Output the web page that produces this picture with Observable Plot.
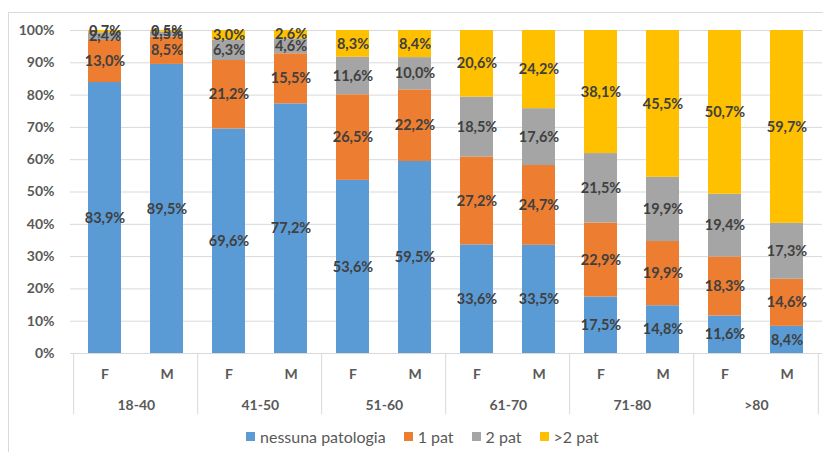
<!DOCTYPE html>
<html>
<head>
<meta charset="utf-8">
<script src="https://cdn.jsdelivr.net/npm/d3@7"></script>
<script src="https://cdn.jsdelivr.net/npm/@observablehq/plot@0.6"></script>
<style>
  html, body { margin: 0; padding: 0; background: #fff; }
  body { width: 823px; height: 452px; position: relative; overflow: hidden; font-family: Lato, "Open Sans", sans-serif; }
  #frame { position: absolute; left: 8px; top: 12px; width: 900px; height: 600px; border: 1px solid #d9d9d9; pointer-events: none; }
  #chart { position: absolute; left: 0; top: 0; }
  #legend { position: absolute; left: 246px; top: 427px; display: flex; align-items: center; font-size: 16px; color: #595959; white-space: nowrap; }
  #legend .item { display: flex; align-items: center; margin-right: 18px; }
  #legend .sw { width: 9px; height: 9px; margin-right: 5px; }
</style>
</head>
<body>
<div id="frame"></div>
<div id="chart"></div>
<div id="legend"></div>
<script>
// ---- data ----
const ages = ["18-40", "41-50", "51-60", "61-70", "71-80", ">80"];
const sexes = ["F", "M"];
const seriesNames = ["nessuna patologia", "1 pat", "2 pat", ">2 pat"];
const seriesColors = ["#5B9BD5", "#ED7D31", "#A5A5A5", "#FFC000"];
// order: 18-40 F, 18-40 M, 41-50 F, 41-50 M, ...
const nessuna = [83.9, 89.5, 69.6, 77.2, 53.6, 59.5, 33.6, 33.5, 17.5, 14.8, 11.6, 8.4];
const pat1    = [13.0, 8.5, 21.2, 15.5, 26.5, 22.2, 27.2, 24.7, 22.9, 19.9, 18.3, 14.6];
const pat2    = [2.4, 1.5, 6.3, 4.6, 11.6, 10.0, 18.5, 17.6, 21.5, 19.9, 19.4, 17.3];
const pat3    = [0.7, 0.5, 3.0, 2.6, 8.3, 8.4, 20.6, 24.2, 38.1, 45.5, 50.7, 59.7];
const yTicks = [0, 0.1, 0.2, 0.3, 0.4, 0.5, 0.6, 0.7, 0.8, 0.9, 1.0];

// ---- build table ----
const seriesValues = [nessuna, pat1, pat2, pat3];
const keys = [];
ages.forEach(a => sexes.forEach(s => keys.push(a + "|" + s)));
const rows = [];
keys.forEach((k, i) => {
  const [age, sex] = k.split("|");
  seriesNames.forEach((name, j) => rows.push({key: k, age, sex, series: name, value: seriesValues[j][i]}));
});
const cats = keys.map(k => { const [age, sex] = k.split("|"); return {key: k, age, sex}; });

const width = 823, height = 420;
const marginLeft = 70, marginRight = 1, marginTop = 30, marginBottom = 67;
const step = (width - marginLeft - marginRight) / keys.length;
const fmt = v => v.toFixed(1).replace(".", ",") + "%";

const plot = Plot.plot({
  width, height, marginLeft, marginRight, marginTop, marginBottom,
  style: {fontFamily: "Lato, 'Open Sans', sans-serif", fontSize: "14px", color: "#595959", background: "transparent", overflow: "visible"},
  x: {type: "band", domain: keys, paddingInner: 0.46, paddingOuter: 0.23, axis: null},
  y: {domain: [0, 1], axis: null},
  color: {domain: seriesNames, range: seriesColors},
  marks: [
    Plot.gridY(yTicks, {stroke: "#d9d9d9", strokeOpacity: 1}),
    Plot.axisY(yTicks, {tickFormat: d3.format(".0%"), tickSize: 0, tickPadding: 16, fontWeight: "bold", fontSize: 14, fill: "#595959", label: null}),
    Plot.barY(rows, Plot.stackY({x: "key", y: "value", fill: "series", order: seriesNames, offset: "normalize"})),
    Plot.text(rows, Plot.stackY({x: "key", y: "value", z: "series", order: seriesNames, offset: "normalize",
      text: d => fmt(d.value), fill: "#404040", fontWeight: "bold", fontSize: 14.5})),
    // category axis: sex labels, age groups, separators
    Plot.text(cats, {x: "key", y: 0, dy: 21, text: "sex", fontWeight: "bold", fontSize: 14, fill: "#595959"}),
    Plot.text(ages, {x: d => d + "|F", y: 0, dx: step / 2, dy: 52, text: d => d, fontWeight: "bold", fontSize: 14, fill: "#595959"}),
    Plot.ruleX(ages, {x: d => d + "|F", dx: -step / 2, y1: 0, y2: -0.19, stroke: "#d9d9d9"}),
    Plot.ruleX([">80|M"], {x: d => d, dx: step / 2, y1: 0, y2: -0.19, stroke: "#d9d9d9"})
  ]
});
document.getElementById("chart").appendChild(plot);

// ---- legend ----
const legend = document.getElementById("legend");
seriesNames.forEach((name, i) => {
  const item = document.createElement("div");
  item.className = "item";
  const sw = document.createElement("div");
  sw.className = "sw";
  sw.style.background = seriesColors[i];
  const t = document.createElement("span");
  t.textContent = name;
  item.appendChild(sw); item.appendChild(t);
  legend.appendChild(item);
});
</script>
</body>
</html>
